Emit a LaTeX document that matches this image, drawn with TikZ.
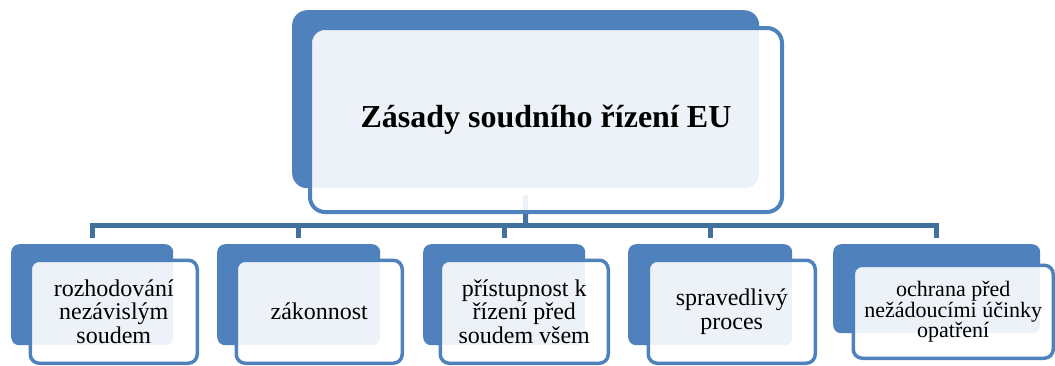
\documentclass[tikz,border=0pt]{standalone}
\usepackage{fontspec}
\setmainfont{Liberation Serif}
\definecolor{accent}{HTML}{4F81BD}
\definecolor{conn}{HTML}{41719C}
\begin{document}
\begin{tikzpicture}[x=1pt,y=-1pt,
  backbox/.style={fill=accent, draw=none, rounded corners=8pt, anchor=north west, inner sep=0pt},
  frontbox/.style={fill=white, fill opacity=0.9, text opacity=1, draw=accent, line width=3.5pt,
    rounded corners=9pt, anchor=north west, inner sep=0pt, align=center,
    font=\fontsize{24}{23.5}\selectfont},
  connector/.style={draw=conn, line width=5pt},
]
\useasboundingbox (0,0) rectangle (1055,365);

% back boxes
\node[backbox, rounded corners=15pt, minimum width=467pt, minimum height=178pt] (topback) at (292,10) {};
\node[backbox, minimum width=162pt, minimum height=101pt] (b1) at (11,244) {};
\node[backbox, minimum width=163pt, minimum height=101pt] (b2) at (217,244) {};
\node[backbox, minimum width=162pt, minimum height=101pt] (b3) at (423,244) {};
\node[backbox, minimum width=164pt, minimum height=101pt] (b4) at (628,244) {};
\node[backbox, minimum width=207pt, minimum height=89pt] (b5) at (833,244) {};

% connectors
\coordinate (hub) at (525.5,225.5);
\draw[connector, shorten <=7pt] (topback.south) -- (hub);
\draw[connector, shorten <=6pt, shorten >=6pt] (b1.north) |- (hub) -| (b5.north);
\draw[connector, shorten <=6pt] (b2.north) -- (b2.north |- hub);
\draw[connector, shorten <=6pt] (b3.north) -- (b3.north |- hub);
\draw[connector, shorten <=6pt] (b4.north) -- (b4.north |- hub);

% front boxes
\node[frontbox, line width=4pt, rounded corners=15pt, minimum width=472pt, minimum height=184pt,
  font=\fontsize{32}{36}\selectfont\bfseries] (top) at (308,26) {Zásady soudního řízení EU};
\node[frontbox, minimum width=167pt, minimum height=103pt] (f1) at (28.5,258.5) {rozhodování\\nezávislým\\soudem};
\node[frontbox, minimum width=166pt, minimum height=103pt] (f2) at (234.5,258.5) {zákonnost};
\node[frontbox, minimum width=168pt, minimum height=103pt] (f3) at (438.5,258.5) {přístupnost k\\řízení před\\soudem všem};
\node[frontbox, minimum width=167pt, minimum height=103pt] (f4) at (646.5,258.5) {spravedlivý\\proces};
\node[frontbox, minimum width=200pt, minimum height=93pt,
  font=\fontsize{22}{20.5}\selectfont] (f5) at (851.5,263.5) {ochrana před\\nežádoucími účinky\\opatření};
\end{tikzpicture}
\end{document}
